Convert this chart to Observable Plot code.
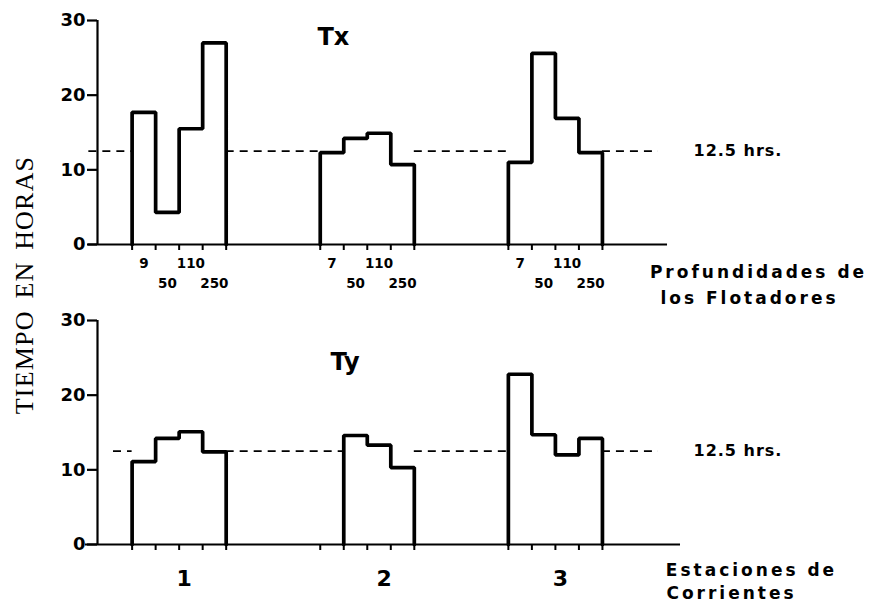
<!DOCTYPE html>
<html><head><meta charset="utf-8">
<script src="https://cdn.jsdelivr.net/npm/d3@7"></script>
<script src="https://cdn.jsdelivr.net/npm/@observablehq/plot@0.6"></script>
<style>
body{margin:0;background:#fff;}
#wrap{position:relative;width:871px;height:603px;overflow:hidden;background:#fff;}
#top{position:absolute;left:0;top:0;}
#bottom{position:absolute;left:0;top:300px;}
#ylab{position:absolute;left:25px;top:285px;transform:translate(-50%,-50%) rotate(-90deg);font-family:"Liberation Serif","DejaVu Serif",serif;font-size:26px;white-space:nowrap;letter-spacing:1.2px;word-spacing:4px;color:#000;}
</style></head><body>
<div id="wrap"><div id="top"></div><div id="bottom"></div><div id="ylab">TIEMPO EN HORAS</div></div>
<script>
// ---- data ----
const stations = [1, 2, 3];
const stationLabels = ["1", "2", "3"];
const yTicks = [0, 10, 20, 30];
const depthLabels1 = ["9", "50", "110", "250"];
const depthLabels23 = ["7", "50", "110", "250"];
const tx1 = [17.7, 4.3, 15.5, 27.0];
const tx2 = [12.3, 14.2, 14.9, 10.7];
const tx3 = [11.0, 25.6, 16.9, 12.3];
const ty1 = [11.1, 14.2, 15.1, 12.4];
const ty2 = [null, 14.6, 13.3, 10.3];
const ty3 = [22.8, 14.7, 12.0, 14.2];
const refHours = 12.5;
const sideLabels = ["Profundidades de", "los Flotadores", "Estaciones de", "Corrientes"];

// ---- layout helpers ----
const FONT = "DejaVu Sans";
const xLeft = 0.566;
const binW = 0.125;
const edgesOf = s => d3.range(5).map(k => s - 0.25 + k * binW);
const allEdges = stations.flatMap(edgesOf);

function present(v) { return v.map((d, k) => d == null ? -1 : k).filter(k => k >= 0); }

function outline(vals) {
  const pts = [];
  stations.forEach((s, i) => {
    const v = vals[i], e = edgesOf(s), idx = present(v);
    const first = idx[0], last = idx[idx.length - 1];
    pts.push({s, x: e[first], y: 0});
    idx.forEach(k => { pts.push({s, x: e[k], y: v[k]}); pts.push({s, x: e[k + 1], y: v[k]}); });
    pts.push({s, x: e[last + 1], y: 0});
  });
  return pts;
}
function extents(vals) {
  return stations.map((s, i) => { const e = edgesOf(s), idx = present(vals[i]); return [e[idx[0]], e[idx[idx.length - 1] + 1]]; });
}
function gaps(vals, start, end) {
  const segs = []; let cur = start;
  extents(vals).forEach(([a, b]) => { segs.push({x1: cur, x2: a}); cur = b; });
  segs.push({x1: cur, x2: end});
  return segs;
}

function panel(o) {
  const marks = [
    Plot.ruleY(gaps(o.vals, o.dashStart, 3.548), {x1: "x1", x2: "x2", y: () => refHours, stroke: "#000", strokeWidth: 1.6, strokeDasharray: "8,6"}),
    Plot.ruleY([0], {x1: o.axisStart, x2: o.axisEnd, stroke: "#000", strokeWidth: 2.2}),
    Plot.ruleX([xLeft], {y1: 0, y2: 30, stroke: "#000", strokeWidth: 2.2}),
    Plot.axisY({ticks: yTicks, tickSize: 10, tickPadding: 2, stroke: "#000", strokeWidth: 2.2, fill: "#000", fontSize: 18, fontWeight: "bold", fontFamily: FONT, label: null}),
    Plot.axisX({ticks: allEdges, tickSize: 6, stroke: "#000", strokeWidth: 2, tickFormat: () => "", label: null}),
    Plot.line(outline(o.vals), {x: "x", y: "y", z: "s", stroke: "#000", strokeWidth: 3.7, strokeLinejoin: "miter"}),
    Plot.text([refHours], {y: d => d, frameAnchor: "right", textAnchor: "start", lineAnchor: "middle", dx: -3, text: d => `${d} hrs.`, fontSize: 16, fontWeight: "bold", fontFamily: FONT, fill: "#000"}),
    Plot.text([o.title], {text: d => d, frameAnchor: "top-left", textAnchor: "start", lineAnchor: "top", dx: o.titleDx, dy: o.titleDy, fontSize: 24, fontWeight: "bold", fontFamily: FONT, fill: "#000"}),
    Plot.text([o.side1], {text: d => d, frameAnchor: "bottom-right", textAnchor: "middle", lineAnchor: "middle", dx: o.side1dx, dy: o.side1dy, fontSize: 17, fontWeight: "bold", fontFamily: FONT, fill: "#000"}),
    Plot.text([o.side2], {text: d => d, frameAnchor: "bottom-right", textAnchor: "middle", lineAnchor: "middle", dx: o.side2dx, dy: o.side2dy, fontSize: 17, fontWeight: "bold", fontFamily: FONT, fill: "#000"})
  ];
  if (o.depth) {
    const rows = stations.flatMap((s, i) => (i === 0 ? depthLabels1 : depthLabels23).map((t, k) => ({x: edgesOf(s)[k] + binW / 2, t, row: k % 2})));
    marks.push(Plot.text(rows.filter(d => d.row === 0), {x: "x", y: () => 0, text: "t", dy: 19, lineAnchor: "middle", fontSize: 13.5, fontWeight: "bold", fontFamily: FONT, fill: "#000"}));
    marks.push(Plot.text(rows.filter(d => d.row === 1), {x: "x", y: () => 0, text: "t", dy: 39, lineAnchor: "middle", fontSize: 13.5, fontWeight: "bold", fontFamily: FONT, fill: "#000"}));
  }
  if (o.stationText) {
    const lab = stations.map((s, i) => { const [a, b] = extents(o.vals)[i]; return {x: (a + b) / 2, t: stationLabels[i]}; });
    marks.push(Plot.text(lab, {x: "x", y: () => 0, text: "t", dy: 34, dx: 5, lineAnchor: "middle", fontSize: 22, fontWeight: "bold", fontFamily: FONT, fill: "#000"}));
  }
  const svg = Plot.plot({
    width: 871, height: o.height,
    marginLeft: 97, marginRight: 175, marginTop: 20, marginBottom: o.height - 244,
    x: {domain: [xLeft, 3.75], axis: null},
    y: {domain: [0, 30], axis: null},
    style: {background: "transparent", overflow: "visible"},
    marks
  });
  d3.select(svg).selectAll("text").each(function () {
    const t = this.textContent;
    if (sideLabels.includes(t)) d3.select(this).style("letter-spacing", "3px");
    else if (t.endsWith("hrs.")) d3.select(this).style("letter-spacing", "1px");
  });
  return svg;
}

document.getElementById("top").append(panel({
  vals: [tx1, tx2, tx3], title: "Tx", titleDx: 220, titleDy: 7, height: 300,
  axisStart: 0.518, axisEnd: 3.596, dashStart: 0.52, depth: true,
  side1: sideLabels[0], side1dx: 62, side1dy: 28,
  side2: sideLabels[1], side2dx: 53, side2dy: 54
}));
document.getElementById("bottom").append(panel({
  vals: [ty1, ty2, ty3], title: "Ty", titleDx: 233, titleDy: 32, height: 303,
  axisStart: 0.502, axisEnd: 3.665, dashStart: 0.651, stationText: true,
  side1: sideLabels[2], side1dx: 55, side1dy: 26,
  side2: sideLabels[3], side2dx: 35, side2dy: 49
}));
</script>
</body></html>
